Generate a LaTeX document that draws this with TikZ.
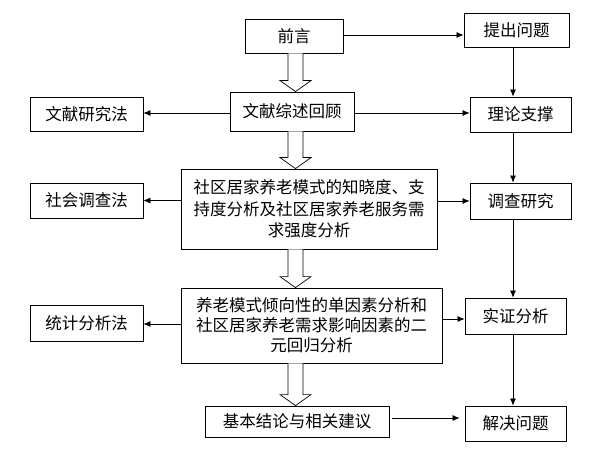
\documentclass[tikz,border=0pt]{standalone}
\usepackage{fontspec}
\setmainfont{Noto Sans CJK SC}
\usetikzlibrary{arrows.meta,calc}
\tikzset{
  box/.style={draw=black, line width=0.8pt, fill=white, inner sep=0pt, align=center,
    font=\fontsize{16.5}{21.5}\selectfont},
  arr/.style={draw=black, line width=0.7pt, -{Latex[length=7pt,width=6pt]}},
  hollow/.style={draw=black, line width=0.7pt, fill=white}
}
\newcommand\blockarrow[2]{%
  \draw[hollow] let \p1=(#1.south -| ax), \p2=(#2.north -| ax) in
    (\x1-7.5pt,\y1) -- (\x1-7.5pt,\y2+11pt) -- (\x1-15.5pt,\y2+11pt) -- (\x1,\y2)
    -- (\x1+15.5pt,\y2+11pt) -- (\x1+7.5pt,\y2+11pt) -- (\x1+7.5pt,\y1);}
\begin{document}
\begin{tikzpicture}[x=1pt,y=-1pt]
\useasboundingbox[fill=white] (0,0) rectangle (596,449);
\coordinate (ax) at (295.5,0);
\coordinate (vx) at (513,0);
% boxes
\node[box, minimum width=98pt, minimum height=34pt] (qy) at (294,36) {前言};
\node[box, minimum width=105pt, minimum height=34pt] (tc) at (516.5,30) {提出问题};
\node[box, minimum width=124pt, minimum height=39pt] (wx) at (292,111.5) {文献综述回顾};
\node[box, minimum width=113pt, minimum height=34pt] (wf) at (86.5,114) {文献研究法};
\node[box, minimum width=101pt, minimum height=35pt] (ll) at (520.5,114.5) {理论支撑};
\node[box, minimum width=256pt, minimum height=80pt] (b1) at (309,209)
  {社区居家养老模式的知晓度、支\\持度分析及社区居家养老服务需\\求强度分析};
\node[box, minimum width=113pt, minimum height=35pt] (sh) at (86.5,200.5) {社会调查法};
\node[box, minimum width=101pt, minimum height=36pt] (dc) at (520.5,201) {调查研究};
\node[box, minimum width=261pt, minimum height=75pt, font=\fontsize{16.5}{20}\selectfont] (b2) at (311.5,325.5)
  {养老模式倾向性的单因素分析和\\社区居家养老需求影响因素的二\\元回归分析};
\node[box, minimum width=113pt, minimum height=36pt] (tj) at (86.5,323) {统计分析法};
\node[box, minimum width=101pt, minimum height=36pt] (sz) at (515.5,316) {实证分析};
\node[box, minimum width=184pt, minimum height=31pt] (jb) at (297,421.5) {基本结论与相关建议};
\node[box, minimum width=101pt, minimum height=35pt] (jj) at (515.5,423.5) {解决问题};
% hollow block arrows
\blockarrow{qy}{wx}
\blockarrow{wx}{b1}
\blockarrow{b1}{b2}
\blockarrow{b2}{jb}
% horizontal arrows
\draw[arr] ($(qy.east)+(0,-1)$) -- ($(qy.east -| tc.west)+(0,-1)$);
\draw[arr] ($(wx.west)+(0,1.5)$) -- ($(wx.west -| wf.east)+(0,1.5)$);
\draw[arr] ($(wx.east)+(0,1.5)$) -- ($(wx.east -| ll.west)+(0,1.5)$);
\draw[arr] (sh.east -| b1.west) -- (sh.east);
\draw[arr] (dc.west -| b1.east) -- (dc.west);
\draw[arr] ($(tj.east -| b2.west)+(0,1)$) -- ($(tj.east)+(0,1)$);
\draw[arr] ($(sz.west -| b2.east)+(0,3)$) -- ($(sz.west)+(0,3)$);
\draw[arr, shorten <=3pt, shorten >=5pt] ($(jb.east)+(0,-3.5)$) -- ($(jb.east -| jj.west)+(0,-3.5)$);
% vertical arrows on the right
\draw[arr] (tc.south -| vx) -- (ll.north -| vx);
\draw[arr] (ll.south -| vx) -- (dc.north -| vx);
\draw[arr] (dc.south -| vx) -- (sz.north -| vx);
\draw[arr] (sz.south -| vx) -- (jj.north -| vx);
\end{tikzpicture}
\end{document}
